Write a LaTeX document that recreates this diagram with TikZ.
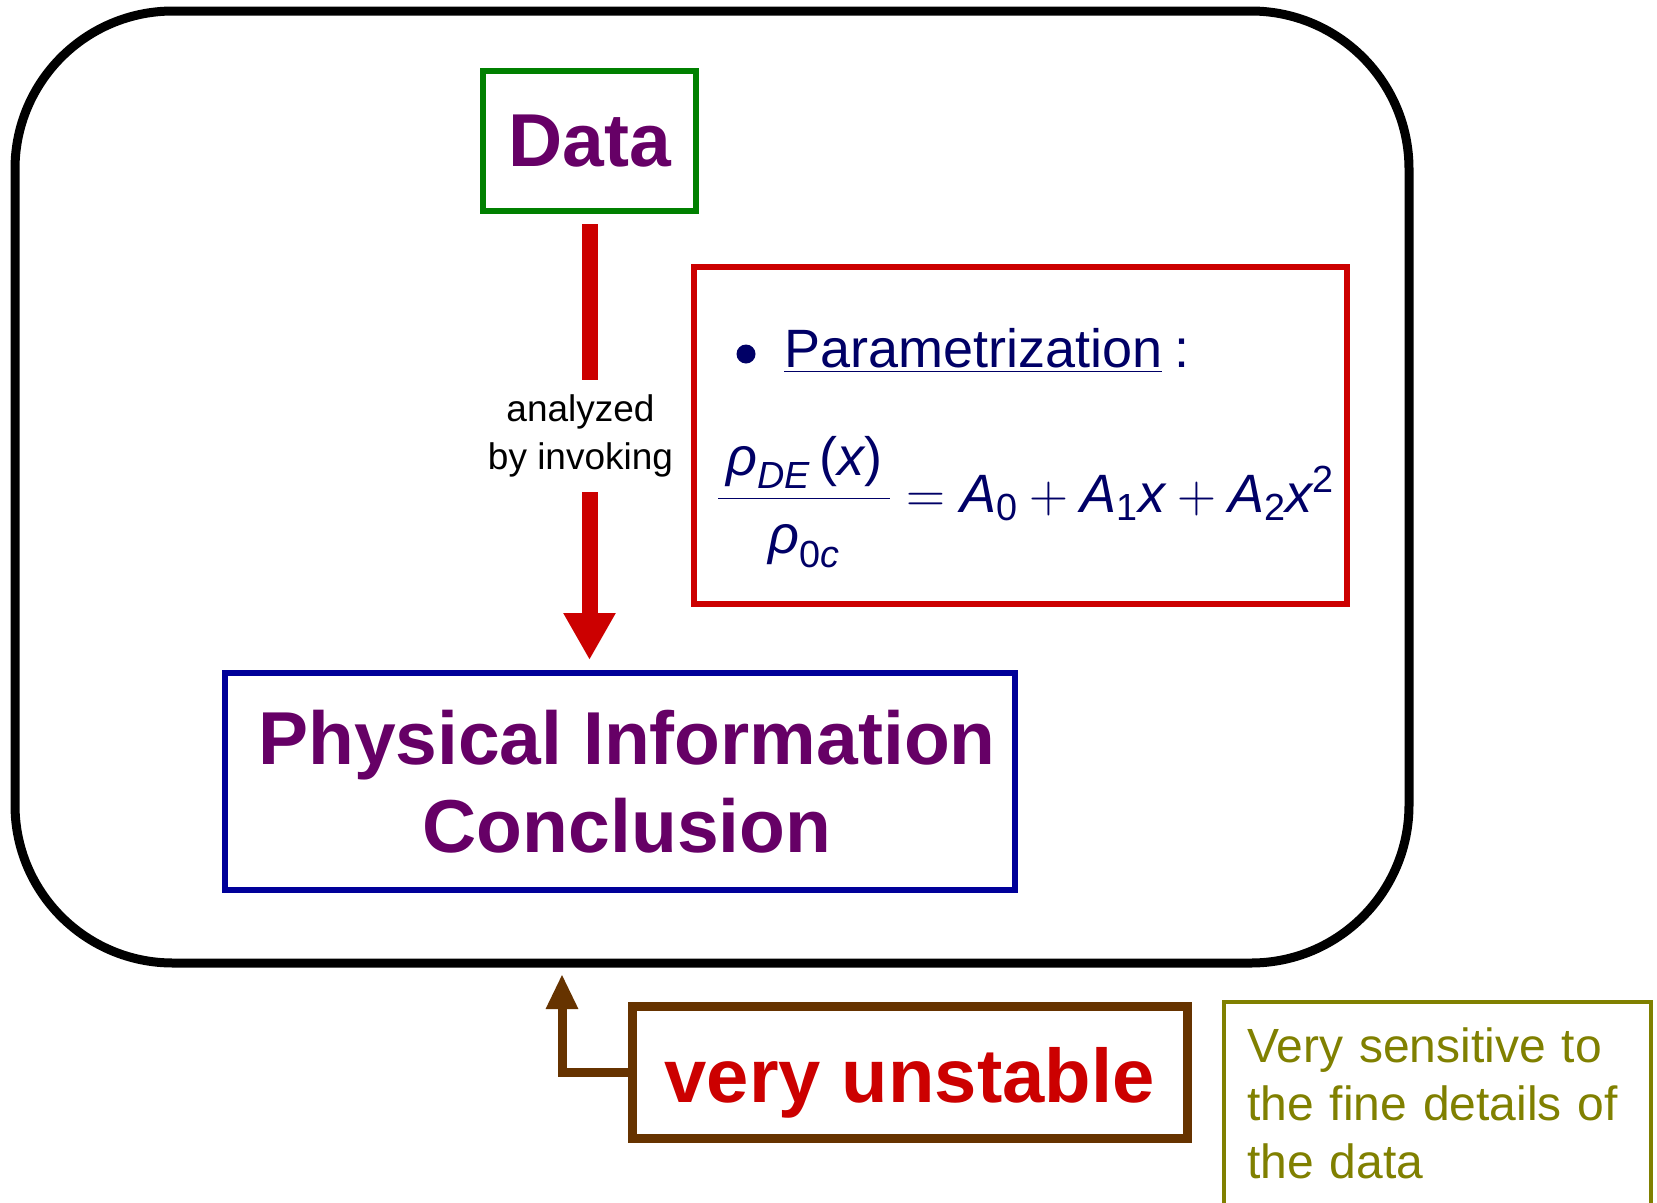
\documentclass[tikz,border=0pt]{standalone}
\usepackage{fix-cm}
\usepackage{amsmath}
\usepackage{fontspec}
\setmainfont{Liberation Sans}
\usetikzlibrary{arrows.meta,positioning,calc}
\definecolor{DeepPurple}{RGB}{102,0,102}
\definecolor{DataGreen}{RGB}{0,128,0}
\definecolor{ArrowRed}{RGB}{204,0,0}
\definecolor{ConclBlue}{RGB}{0,0,153}
\definecolor{FormulaNavy}{RGB}{0,0,102}
\definecolor{RustBrown}{RGB}{102,51,0}
\definecolor{OliveText}{RGB}{128,128,0}
\newcommand{\itv}[1]{\text{\itshape #1}}

\begin{document}
\begin{tikzpicture}[x=1pt, y=-1pt,
  framebox/.style={draw=black, line width=9pt, rounded corners=158pt},
  bigtitle/.style={text=DeepPurple, font=\fontsize{75}{88}\selectfont\bfseries, align=center},
  thinbox/.style={line width=6pt, inner sep=0pt},
]
\path[use as bounding box, fill=white] (0,0) rectangle (1657,1202);

% outer frame
\node[framebox, minimum width=1394pt, minimum height=952pt] (frame) at (712,487) {};

\node[thinbox, bigtitle, draw=DataGreen, minimum width=213pt, minimum height=140pt] (data) at (589.5,141) {Data};
\node[thinbox, bigtitle, draw=ConclBlue, minimum width=790pt, minimum height=217pt] (phys) at (620,781.5)
  {\hspace*{14pt}Physical Information\\\hspace*{14pt}Conclusion};

% parametrization
\node[thinbox, draw=ArrowRed, minimum width=653pt, minimum height=337pt] (param) at (1020.5,435.5) {};
\node[circle, fill=FormulaNavy, minimum size=19pt, inner sep=0pt] (bullet) at (746,354) {};
\node[anchor=base west, inner sep=0pt, text=FormulaNavy, font=\fontsize{54}{60}\selectfont] (paramtitle) at (784,367)
  {\underline{Parametrization}\hspace{12pt}:};
\node[anchor=base west, inner sep=0pt, text=FormulaNavy, font=\fontsize{54}{62}\selectfont] (formula) at (717,512)
  {$\dfrac{\hspace{8pt}\itv{ρ}_{\itv{DE}}\,\text{(}\itv{x}\text{)}\hspace{8pt}}{\rule{0pt}{52pt}\itv{ρ}_{\text{0}\itv{c}}} = \itv{A}_{\text{0}} + \itv{A}_{\text{1}}\itv{x} + \itv{A}_{\text{2}}\itv{x}^{\text{2}}$};

\draw[ArrowRed, line width=16pt, -{Triangle[width=49pt,length=47pt]}]
  ([yshift=-10pt]data.south) -- node[midway, xshift=-9pt, yshift=6pt, fill=white, text=black, align=center,
  inner xsep=4pt, inner ysep=15pt, font=\fontsize{37}{48}\selectfont] (invoke) {analyzed\\by invoking}
  ([yshift=10pt]data.south |- phys.north);

% bottom notes
\node[draw=RustBrown, line width=9pt, minimum width=555pt, minimum height=132pt, text height=60pt, text depth=0pt,
  text=ArrowRed, font=\fontsize{76}{88}\selectfont\bfseries] (unstable) at (909.5,1072) {very unstable};
\coordinate (hit) at (562,974);
\draw[RustBrown, line width=9pt, -{Triangle[width=30pt,length=35pt]}] (unstable.west) -| (hit);

\node[draw=OliveText, line width=4.5pt, anchor=north west, outer sep=0pt, text width=381pt,
  inner xsep=23pt, inner ysep=26pt, align=left, text=OliveText,
  font=\fontsize{48}{58}\selectfont] (sensitive) at (1224,1002)
  {Very sensitive to\\the fine details of\\the data};
\end{tikzpicture}
\end{document}
